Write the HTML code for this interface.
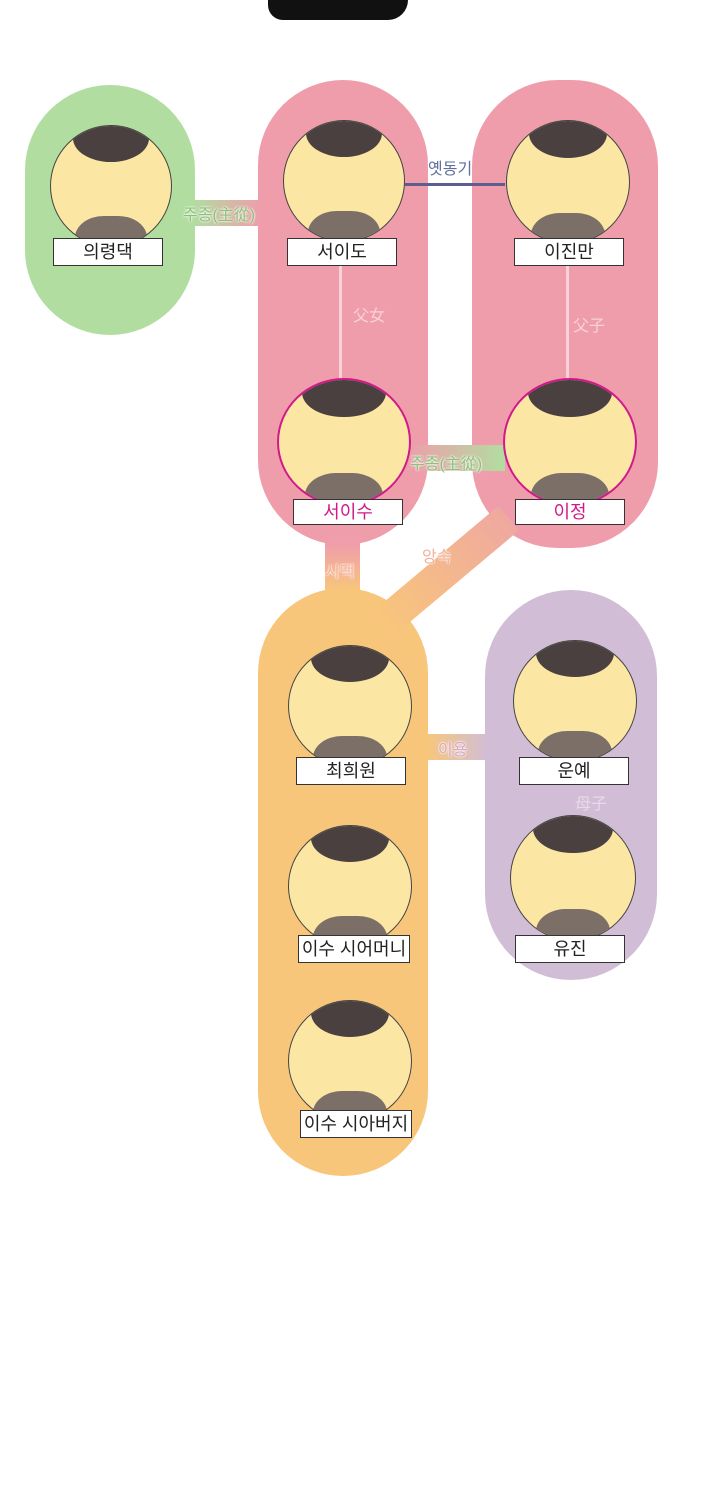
<!DOCTYPE html>
<html><head><meta charset="utf-8"><style>
body{margin:0;width:720px;height:1500px;background:#fff;position:relative;overflow:hidden;font-family:"Liberation Sans","Noto Sans CJK KR",sans-serif}
.a{position:absolute}
.pill{position:absolute;border-radius:86px}
.c{position:absolute;border-radius:50%;background:#fbe6a4;border:1.5px solid #444;overflow:hidden}
.c::after{content:"";position:absolute;left:18%;top:-10%;width:64%;height:40%;background:#4a4040;border-radius:50%}
.c::before{content:"";position:absolute;left:20%;bottom:-20%;width:60%;height:45%;background:#7b6f68;border-radius:40% 40% 0 0}
.lb{position:absolute;background:#fff;border:1.5px solid #333;font-size:18px;text-align:center;line-height:26px;height:26px;color:#222}
.t{position:absolute;font-size:16px;white-space:nowrap;text-shadow:0 0 2px #fff,0 0 2px #fff}
</style></head><body>
<div class="a" style="left:268px;top:0;width:140px;height:20px;background:#111;border-radius:0 0 40px 30px"></div>

<div class="pill" style="left:25px;top:85px;width:170px;height:250px;background:#b2dda0"></div>
<div class="pill" style="left:258px;top:80px;width:170px;height:465px;background:#ef9dab"></div>
<div class="pill" style="left:472px;top:80px;width:186px;height:468px;background:#ef9dab"></div>
<div class="pill" style="left:258px;top:588px;width:170px;height:588px;background:#f8c67a"></div>
<div class="pill" style="left:485px;top:590px;width:172px;height:390px;background:#d1bed6"></div>

<div class="a" style="left:193px;top:200px;width:68px;height:26px;background:linear-gradient(90deg,#b2dda0,#ef9dab)"></div>
<div class="a" style="left:405px;top:183px;width:100px;height:3px;background:#5e5d8f"></div>
<div class="a" style="left:339px;top:265px;width:3px;height:115px;background:#f8d2d8"></div>
<div class="a" style="left:566px;top:265px;width:3px;height:115px;background:#f8d2d8"></div>
<div class="a" style="left:405px;top:445px;width:100px;height:26px;background:linear-gradient(90deg,#ef9dab,#b2dda0)"></div>
<div class="a" style="left:325px;top:543px;width:35px;height:48px;background:linear-gradient(#ef9dab,#f8c67a)"></div>
<div class="a" style="left:372px;top:612px;width:165px;height:32px;background:linear-gradient(90deg,#f8c67a,#efa8a0);transform:rotate(-40deg);transform-origin:0 0"></div>
<div class="a" style="left:426px;top:734px;width:62px;height:26px;background:linear-gradient(90deg,#f8c67a,#d1bed6)"></div>

<div class="c" style="left:50px;top:125px;width:120px;height:120px"></div>
<div class="c" style="left:283px;top:120px;width:120px;height:120px"></div>
<div class="c" style="left:506px;top:120px;width:122px;height:122px"></div>
<div class="c" style="left:277px;top:378px;width:130px;height:124px;border:2px solid #d0198c"></div>
<div class="c" style="left:503px;top:378px;width:130px;height:124px;border:2px solid #d0198c"></div>
<div class="c" style="left:288px;top:645px;width:122px;height:120px"></div>
<div class="c" style="left:513px;top:640px;width:122px;height:120px"></div>
<div class="c" style="left:288px;top:825px;width:122px;height:120px"></div>
<div class="c" style="left:510px;top:815px;width:124px;height:124px"></div>
<div class="c" style="left:288px;top:1000px;width:122px;height:120px"></div>

<div class="lb" style="left:53px;top:238px;width:108px">의령댁</div>
<div class="lb" style="left:287px;top:238px;width:108px">서이도</div>
<div class="lb" style="left:514px;top:238px;width:108px">이진만</div>
<div class="lb" style="left:293px;top:499px;width:108px;color:#d0198c;height:24px;line-height:24px">서이수</div>
<div class="lb" style="left:515px;top:499px;width:108px;color:#d0198c;height:24px;line-height:24px">이정</div>
<div class="lb" style="left:296px;top:757px;width:108px">최희원</div>
<div class="lb" style="left:519px;top:757px;width:108px">운예</div>
<div class="lb" style="left:298px;top:935px;width:110px">이수 시어머니</div>
<div class="lb" style="left:515px;top:935px;width:108px">유진</div>
<div class="lb" style="left:300px;top:1110px;width:110px">이수 시아버지</div>

<div class="t" style="left:183px;top:201px;color:#8dc07a">주종(主從)</div>
<div class="t" style="left:428px;top:155px;color:#5e6fa0">옛동기</div>
<div class="t" style="left:353px;top:302px;color:#f8d2d8;text-shadow:none">父女</div>
<div class="t" style="left:573px;top:312px;color:#f8d2d8;text-shadow:none">父子</div>
<div class="t" style="left:410px;top:450px;color:#8dc07a">주종(主從)</div>
<div class="t" style="left:325px;top:558px;color:#f3b19a">시댁</div>
<div class="t" style="left:422px;top:543px;color:#f3b19a">앙숙</div>
<div class="t" style="left:438px;top:736px;color:#d7a9c8">이용</div>
<div class="t" style="left:575px;top:790px;color:#ead8ea;text-shadow:none">母子</div>
</body></html>
